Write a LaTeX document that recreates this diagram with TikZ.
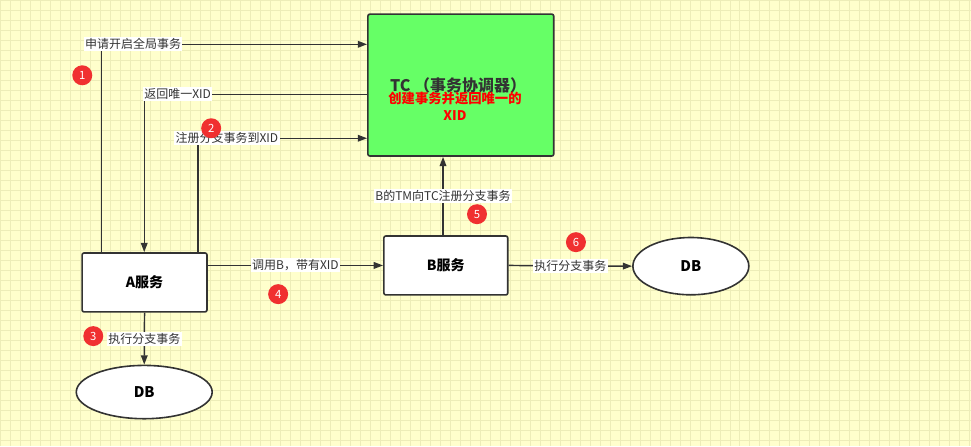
\documentclass[tikz,border=0pt]{standalone}
\usepackage{fontspec}
\setmainfont{Noto Sans CJK SC}
\usetikzlibrary{arrows.meta,shapes.geometric}
\definecolor{bg}{HTML}{FFFFCC}
\definecolor{gridc}{HTML}{EDEDB8}
\definecolor{tcg}{HTML}{66FF66}
\definecolor{ln}{HTML}{333333}
\definecolor{badge}{HTML}{F03030}
\begin{document}
\begin{tikzpicture}[x=0.75pt,y=-0.75pt,
  box/.style={draw=ln,line width=1.2pt,rounded corners=1.5pt,fill=white,font=\fontsize{10.5}{12}\selectfont\bfseries},
  db/.style={draw=ln,line width=1.2pt,ellipse,fill=white,font=\fontsize{11}{12}\selectfont\bfseries},
  con/.style={draw=ln,line width=1.1pt,-{Triangle[length=7pt,width=5pt]}},
  lab/.style={fill=white,inner sep=1pt,font=\fontsize{9}{10}\selectfont,text=ln},
  num/.style={circle,fill=badge,text=white,inner sep=0pt,minimum size=15pt,font=\fontsize{8.5}{9}\selectfont}]
\fill[bg] (0,0) rectangle (971,446);
\foreach \i in {0,10,...,970} \draw[gridc,line width=0.5pt] (\i,0) -- (\i,446);
\foreach \j in {0,10,...,440} \draw[gridc,line width=0.5pt] (0,\j) -- (971,\j);
\useasboundingbox (0,0) rectangle (971,446);
\node[box,fill=tcg,minimum width=139.5pt,minimum height=106.5pt,anchor=north west] (tc) at (367,13) {};
\node[font=\fontsize{12}{14}\selectfont\bfseries,text=ln] (tct) at (458,85) {TC （事务协调器）};
\node[font=\fontsize{10}{13}\selectfont\bfseries,text=red,align=center] (tcr) at (455,106) {创建事务并返回唯一的\\XID};
\node[box,minimum width=93.75pt,minimum height=44.25pt,anchor=north west] (a) at (81,252) {A服务};
\node[box,minimum width=93pt,minimum height=44.25pt,anchor=north west] (b) at (383,235) {B服务};
\node[db,minimum width=102pt,minimum height=40pt] (db1) at (144,392) {DB};
\node[db,minimum width=87pt,minimum height=43pt] (db2) at (691,266) {DB};
\coordinate (c1) at (101,44);
\coordinate (c2) at (144,94);
\coordinate (c3) at (198,138);
\draw[con] (a.north west -| c1) -- (c1) -- (c1 -| tc.west) node[lab,pos=0.12] {申请开启全局事务};
\draw[con] (tc.west |- c2) -- (c2) node[lab,pos=0.85] {返回唯一XID} -- (a.north -| c2);
\draw[con] (a.north -| c3) -- (c3) -- (c3 -| tc.west) node[lab,pos=0.17] {注册分支事务到XID};
\draw[con] (a.east |- b.west) -- (b.west) node[lab,midway] {调用B，带有XID};
\draw[con] (b.north -| 443,0) -- (tc.south -| 443,0) node[lab,midway] {B的TM向TC注册分支事务};
\draw[con] (b.east) -- (db2.west) node[lab,midway] {执行分支事务};
\draw[con] (a.south) -- (db1.north) node[lab,midway] {执行分支事务};
\node[num] (n1) at (82,75) {1};
\node[num] (n2) at (211,128) {2};
\node[num] (n3) at (93,336) {3};
\node[num] (n4) at (278,294) {4};
\node[num] (n5) at (477,214) {5};
\node[num] (n6) at (576,242) {6};
\end{tikzpicture}
\end{document}
